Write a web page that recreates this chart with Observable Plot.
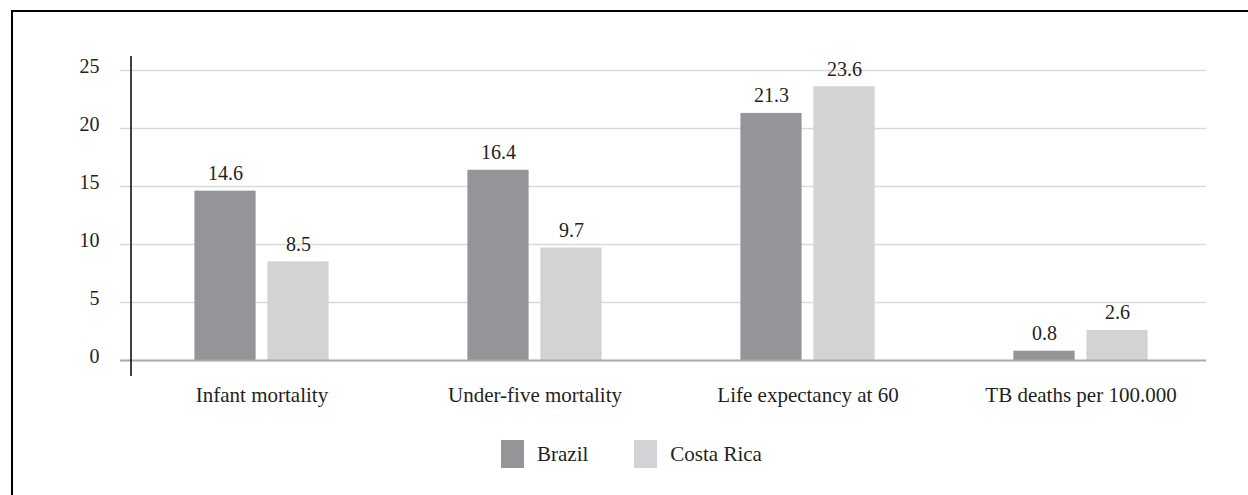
<!DOCTYPE html>
<html><head><meta charset="utf-8">
<script src="https://cdn.jsdelivr.net/npm/d3@7"></script>
<script src="https://cdn.jsdelivr.net/npm/@observablehq/plot@0.6"></script>
<style>
body{margin:0;background:#fff;font-family:"Liberation Serif",serif;}
#wrap{position:relative;width:1248px;height:495px;overflow:hidden;background:#fff;}
#border{position:absolute;left:11px;top:10px;width:1400px;height:700px;border-top:2px solid #000;border-left:2px solid #000;}
#chart{position:absolute;left:0;top:0;}
#legend{position:absolute;left:501px;top:440px;display:flex;align-items:center;font-size:21px;color:#231f20;font-family:"Liberation Serif",serif;}
.sw{width:23px;height:28px;margin-right:13px;}
.lab{margin-right:46px;}
</style></head>
<body>
<div id="wrap"><div id="border"></div><div id="chart"></div><div id="legend"></div></div>
<script>
const categories = ["Infant mortality", "Under-five mortality", "Life expectancy at 60", "TB deaths per 100.000"];
const series = ["Brazil", "Costa Rica"];
const brazil = [14.6, 16.4, 21.3, 0.8];
const costaRica = [8.5, 9.7, 23.6, 2.6];
const yTicks = [0, 5, 10, 15, 20, 25];
const colors = ["#939598", "#d1d3d4"];

const rows = [];
categories.forEach((c, i) => {
  rows.push({category: c, series: series[0], value: brazil[i]});
  rows.push({category: c, series: series[1], value: costaRica[i]});
});

const offsets = [-36.5, 36.5];
const barMarks = [];
series.forEach((s, k) => {
  const data = rows.filter(d => d.series === s);
  barMarks.push(Plot.barY(data, {x: "category", y: "value", fill: colors[k], dx: offsets[k], insetLeft: 105.9, insetRight: 105.9}));
});
const textMarks = series.map((s, k) => Plot.text(rows.filter(d => d.series === s), {
  x: "category", y: "value", text: d => d.value.toFixed(1), dx: offsets[k], dy: -11,
  lineAnchor: "bottom", fill: "#231f20", fontSize: 20
}));

function axisLine(index, scales, values, dimensions) {
  const {marginLeft, marginTop, marginBottom, height} = dimensions;
  const g = d3.create("svg:line")
    .attr("x1", marginLeft + 11).attr("x2", marginLeft + 11)
    .attr("y1", marginTop - 14).attr("y2", height - marginBottom + 16)
    .attr("stroke", "#000").attr("stroke-width", 1.5);
  return g.node();
}

const chart = Plot.plot({
  width: 1248, height: 420,
  marginLeft: 120, marginRight: 42, marginTop: 70, marginBottom: 60,
  style: {fontFamily: "Liberation Serif, serif", fontSize: "20px", color: "#231f20", background: "transparent"},
  x: {domain: categories, range: [123, 1218], padding: 0, label: null, tickSize: 0, tickPadding: 27},
  y: {domain: [0, 25], ticks: yTicks, label: null, tickSize: 0, tickPadding: 21},
  marks: [
    Plot.ruleY(yTicks.filter(d => d > 0), {stroke: "#d9d9d9", strokeWidth: 1.5}),
    ...barMarks,
    Plot.ruleY([0], {stroke: "#a7a9ac", strokeWidth: 2}),
    ...textMarks,
    axisLine
  ]
});
chart.querySelectorAll("g[aria-label='x-axis tick label'] text, g[aria-label='x-axis'] text").forEach(t => t.style.fontSize = "21px");
chart.querySelectorAll("g[aria-label='y-axis tick label'] text, g[aria-label='y-axis'] text").forEach(t => t.setAttribute("dy", "-0.2em"));
document.getElementById("chart").appendChild(chart);

const legend = document.getElementById("legend");
series.forEach((s, k) => {
  const sw = document.createElement("div");
  sw.className = "sw"; sw.style.background = colors[k];
  const lab = document.createElement("span");
  lab.className = "lab"; lab.textContent = s;
  legend.appendChild(sw); legend.appendChild(lab);
});
</script>
</body></html>
